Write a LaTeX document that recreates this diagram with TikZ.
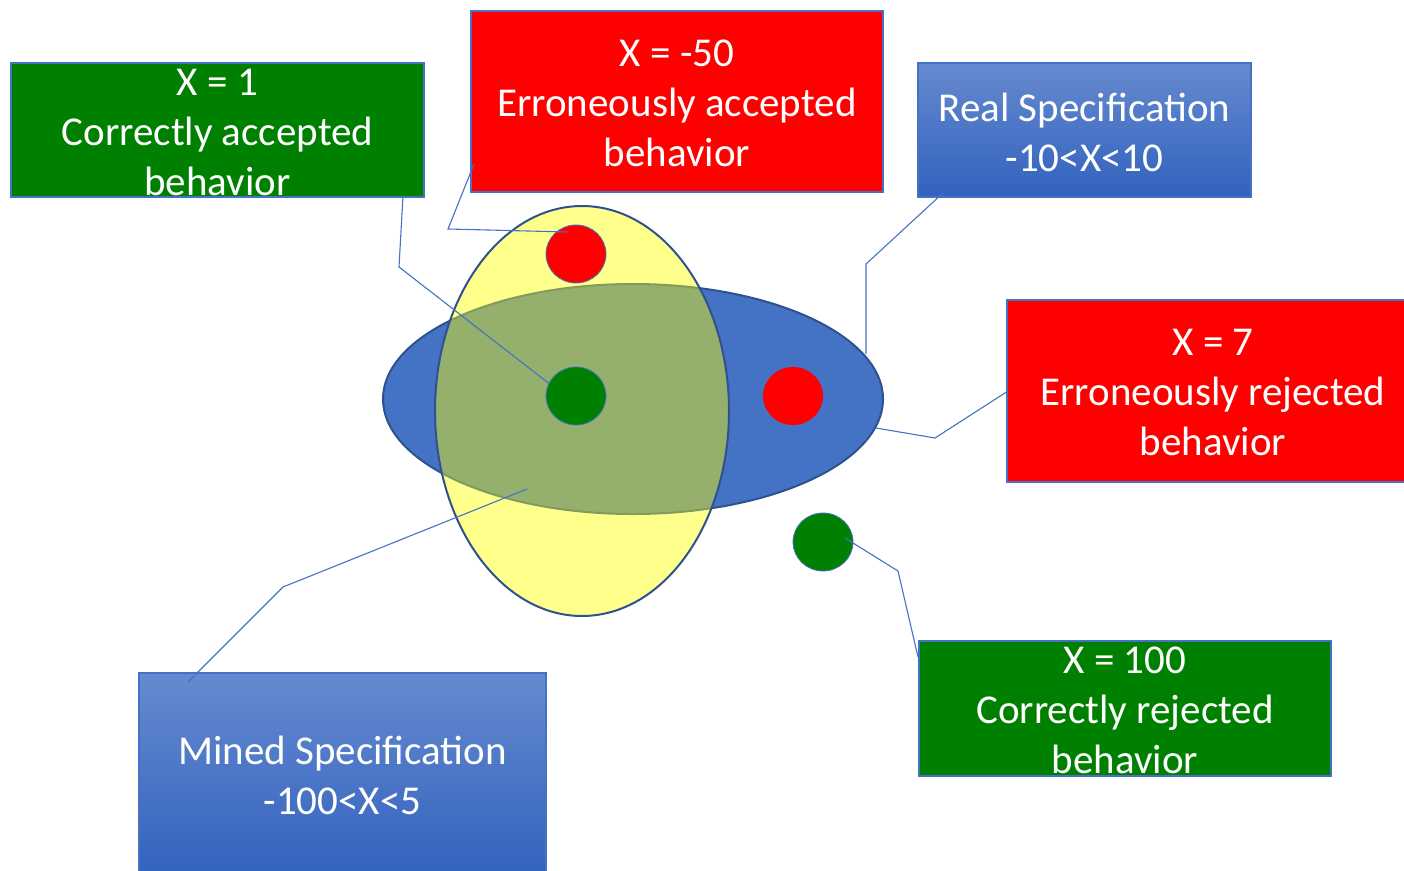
\documentclass[tikz,border=0pt]{standalone}
\usepackage{fontspec}
\setmainfont{Carlito}
\usetikzlibrary{shapes.geometric}
\definecolor{lineblue}{HTML}{4472C4}
\definecolor{edgeblue}{HTML}{2F528F}
\definecolor{setblue}{HTML}{4472C4}
\definecolor{setyellow}{HTML}{FFFF8C}
\definecolor{overlap}{HTML}{95AF6C}
\definecolor{overlapedge}{HTML}{819B5C}
\definecolor{okgreen}{HTML}{008000}
\definecolor{badred}{HTML}{FF0000}
\definecolor{spectop}{HTML}{658ACF}
\definecolor{specbot}{HTML}{3262BE}
\begin{document}
\begin{tikzpicture}[x=1pt,y=-1pt,
  conn/.style={draw=lineblue, line width=1.1pt},
  labelbox/.style={rectangle, draw=lineblue, line width=1.1pt, text=white,
    align=center, inner sep=0pt, font=\fontsize{41}{50}\selectfont},
  specbox/.style={labelbox, top color=spectop, bottom color=specbot},
  dot/.style={ellipse, inner sep=0pt, minimum width=60, minimum height=58}]
\useasboundingbox (0,0) rectangle (1404,870);
\clip (0,0) rectangle (1404,870);

% the two specification sets
\node[ellipse, fill=setblue, draw=edgeblue, line width=2pt,
  minimum width=500, minimum height=230] (real) at (633,399) {};
\path[fill=setyellow] (582,411) ellipse [x radius=147, y radius=205];
\begin{scope}
  \clip (582,411) ellipse [x radius=147, y radius=205];
  \path[fill=overlap] (633,399) ellipse [x radius=250, y radius=115];
  \draw[overlapedge, line width=2pt] (633,399) ellipse [x radius=250, y radius=115];
\end{scope}
\node[ellipse, draw=edgeblue, line width=2pt,
  minimum width=294, minimum height=410] (mined) at (582,411) {};

% sample behaviours
\node[dot, fill=badred, draw=lineblue, line width=0.8pt] (d50) at (576,254) {};
\node[dot, fill=okgreen, draw=lineblue, line width=0.8pt] (d1) at (576,396) {};
\node[dot, fill=badred] (d7) at (793,396) {};
\node[dot, fill=okgreen, draw=lineblue, line width=0.8pt] (d100) at (823,542) {};

% callout boxes: frames first, then their centred text
\node[labelbox, fill=okgreen, minimum width=413, minimum height=134] (b1) at (217.5,130) {};
\node[labelbox, fill=badred, minimum width=412, minimum height=181] (b50) at (677,101.5) {};
\node[specbox, minimum width=333, minimum height=134] (breal) at (1084.5,130) {};
\node[labelbox, fill=badred, minimum width=412, minimum height=182] (b7) at (1213,391) {};
\node[labelbox, fill=okgreen, minimum width=412, minimum height=135] (b100) at (1125,708.5) {};
\node[specbox, minimum width=407, minimum height=206] (bmined) at (342.5,776) {};

\node[labelbox, draw=none] (t1) at ([yshift=-2]b1.center) {X = 1\\Correctly accepted\\behavior};
\node[labelbox, draw=none] (t50) at ([yshift=-2]b50.center) {X = -50\\Erroneously accepted\\behavior};
\node[labelbox, draw=none] (treal) at ([yshift=-2]breal.center) {Real Specification\\-10<X<10};
\node[labelbox, draw=none] (t7) at ([yshift=-1]b7.center) {X = 7\\Erroneously rejected\\behavior};
\node[labelbox, draw=none] (t100) at ([yshift=-2]b100.center) {X = 100\\Correctly rejected\\behavior};
\node[labelbox, draw=none] (tmined) at ([yshift=1]bmined.center) {Mined Specification\\-100<X<5};

% connector ends and bends
\coordinate (p1a) at (403,196);
\coordinate (p1b) at (399,267);
\coordinate (p50a) at (474,164);
\coordinate (p50b) at (448,229);
\coordinate (p50c) at (568,232);
\coordinate (pra) at (943,193);
\coordinate (prb) at (866,264);
\coordinate (prc) at (866,354);
\coordinate (p7a) at (1008,391);
\coordinate (p7b) at (935,438);
\coordinate (p7c) at (876,428);
\coordinate (p100a) at (845,538);
\coordinate (p100b) at (898,571);
\coordinate (p100c) at (918,657);
\coordinate (pma) at (188,682);
\coordinate (pmb) at (283,587);
\coordinate (pmc) at (527,489);

% connectors
\draw[conn] (p1a) -- (p1b) -- (d1.155);
\draw[conn] (p50a) -- (p50b) -- (p50c);
\draw[conn] (pra) -- (prb) -- (prc);
\draw[conn] (p7a) -- (p7b) -- (p7c);
\draw[conn] (p100a) -- (p100b) -- (p100c);
\draw[conn] (pma) -- (pmb) -- (pmc);
\end{tikzpicture}
\end{document}
